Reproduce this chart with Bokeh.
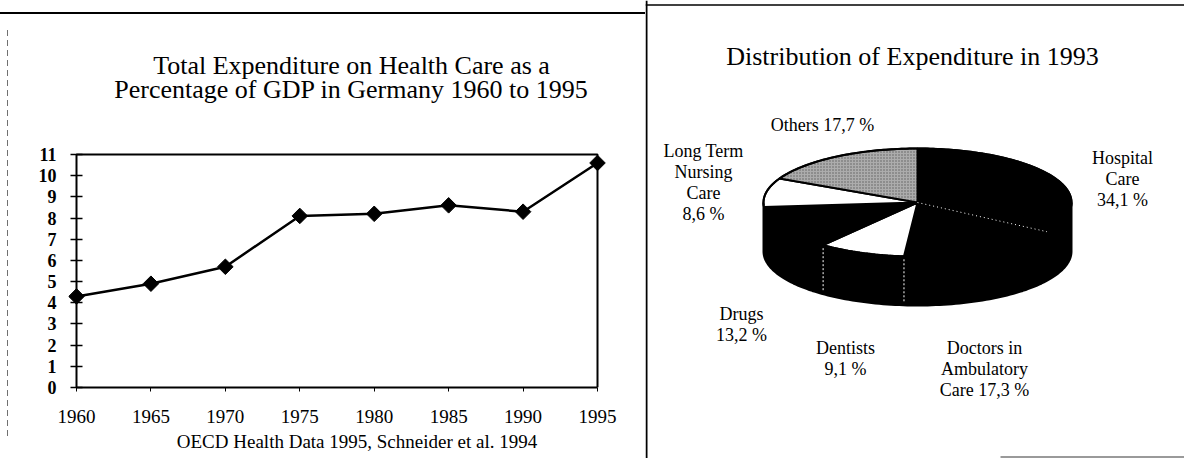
import numpy as np
from bokeh.plotting import figure
from bokeh.layouts import row, column
from bokeh.models import (Range1d, FixedTicker, Label, Span, Div, ColumnDataSource)
from bokeh.core.properties import value
from bokeh.embed import file_html
from bokeh.resources import INLINE

# ---------------- data ----------------
years = [1960, 1965, 1970, 1975, 1980, 1985, 1990, 1995]
health_share_gdp = [4.3, 4.9, 5.7, 8.1, 8.2, 8.6, 8.3, 10.6]
y_ticks = list(range(0, 12))
x_ticks = years

line_title = ["Total Expenditure on Health Care as a",
              "Percentage of GDP in Germany 1960 to 1995"]
source_note = "OECD Health Data 1995, Schneider et al. 1994"

pie_title = "Distribution of Expenditure in 1993"
pie_categories = ["Hospital Care", "Doctors in Ambulatory Care", "Dentists",
                  "Drugs", "Long Term Nursing Care", "Others"]
pie_shares = [34.1, 17.3, 9.1, 13.2, 8.6, 17.7]
pie_label_lines = [["Hospital", "Care", "{v}"],
                   ["Doctors in", "Ambulatory", "Care {v}"],
                   ["Dentists", "{v}"],
                   ["Drugs", "{v}"],
                   ["Long Term", "Nursing", "Care", "{v}"],
                   ["Others {v}"]]

# ---------------- styles / layout (page px) ----------------
FONT = "Liberation Serif"
W_TOTAL, H = 1184, 458
DIV_X = 645                   # divider between the two panels
W_L = DIV_X
W_R = W_TOTAL - W_L
TOP_GAP, TOP_LINE = 12, 2     # scanned sheet's top rule over the left panel
P1_TOP = TOP_GAP + TOP_LINE
H_P1 = H - P1_TOP
DASH_X = 7                    # faint dashed scan edge on the far left
P1_LEFT = DASH_X + 1
W_P1 = W_L - P1_LEFT
FR_L, FR_R, FR_T, FR_B = 76, 597, 154, 387   # line-chart box
FRAME_PAD = 8                 # room so the 1960 marker is not cut
Y_MAX, X_MIN, X_MAX = 11, 1960, 1995

pie_colors = ["black", "black", "white", "black", "white", "#acacac"]
pie_hatch = [" ", " ", " ", " ", " ", "dot"]
label_anchor = [(1122, 157), (984, 347), (845, 347), (741, 313), (703, 150), (822, 124)]
LINE_STEP = 21
CX, CY, A, B, DEPTH = 917, 202, 154, 54, 49

# ---------------- left: line chart ----------------
ppx = (X_MAX - X_MIN) / (FR_R - FR_L)      # years per pixel
ppy = Y_MAX / (FR_B - FR_T)                 # units per pixel


def lx(px):
    return X_MIN + (px - FR_L) * ppx


def ly(py):
    return (FR_B - py) * ppy


frame_left = FR_L - FRAME_PAD
p1 = figure(width=W_P1, height=H_P1,
            x_range=Range1d(lx(frame_left), lx(DIV_X)), y_range=Range1d(0, ly(P1_TOP)),
            output_backend="svg", toolbar_location=None, frame_align=False,
            min_border_left=frame_left - P1_LEFT, min_border_right=0, min_border_top=0,
            min_border_bottom=H - FR_B, margin=0)
p1.xgrid.visible = False
p1.ygrid.visible = False
p1.outline_line_color = None
p1.background_fill_color = "white"
p1.border_fill_color = "white"

p1.xaxis.ticker = FixedTicker(ticks=x_ticks)
p1.yaxis.ticker = FixedTicker(ticks=y_ticks)
p1.xaxis.bounds = (X_MIN, X_MAX)
p1.yaxis.bounds = (0, Y_MAX)
for ax in (p1.xaxis, p1.yaxis):
    ax.axis_line_color = "black"
    ax.axis_line_width = 2
    ax.major_tick_line_color = "black"
    ax.minor_tick_line_color = None
    ax.major_label_text_color = "black"
    ax.major_label_text_font = FONT
# y ticks cross the box's left edge (which sits FRAME_PAD px inside the frame)
p1.yaxis.axis_line_color = None
p1.yaxis.major_tick_in = FRAME_PAD + 6
p1.yaxis.major_tick_out = -(FRAME_PAD - 6)
p1.yaxis.major_tick_line_width = 1.5
p1.yaxis.major_label_text_font_size = "18px"
p1.yaxis.major_label_text_font_style = "bold"
p1.yaxis.major_label_standoff = 12
p1.xaxis.major_tick_in = 0
p1.xaxis.major_tick_out = 4
p1.xaxis.major_tick_line_width = 1
p1.xaxis.major_label_text_font_size = "19px"
p1.xaxis.major_label_standoff = 18
p1.xaxis.axis_label = source_note
p1.xaxis.axis_label_text_font = FONT
p1.xaxis.axis_label_text_font_style = "normal"
p1.xaxis.axis_label_text_font_size = "19px"
p1.xaxis.axis_label_text_color = "black"
p1.xaxis.axis_label_standoff = 5

# edges of the chart box
p1.line([X_MIN, X_MIN, X_MAX, X_MAX], [0, Y_MAX, Y_MAX, 0], line_color="black",
        line_width=2)

p1.line(years, health_share_gdp, line_width=2.5, color="black")
p1.scatter(years, health_share_gdp, marker="square", angle=np.pi / 4, size=11,
           color="black")

for txt, ypos in zip(line_title, [65, 89]):
    p1.add_layout(Label(x=lx(351), y=ly(ypos), text=txt, text_align="center",
                        text_baseline="middle", text_font=FONT,
                        text_font_size="26px", text_color="black"))

top_gap = Div(text="", width=W_L, height=TOP_GAP, margin=0)
top_rule = Div(text="", width=W_L, height=TOP_LINE, margin=0,
               styles={"background-color": "black", "overflow": "hidden"})
dash_style = {"background-image":
              "repeating-linear-gradient(to bottom, #707070 0px, #707070 6px, "
              "transparent 6px, transparent 10px)"}
dash_col = column(Div(text="", width=1, height=16, margin=0),
                  Div(text="", width=1, height=410, margin=0, styles=dash_style),
                  Div(text="", width=1, height=H_P1 - 426, margin=0),
                  spacing=0, margin=0)
left_row = row(Div(text="", width=DASH_X, height=H_P1, margin=0), dash_col, p1,
               spacing=0, margin=0)
left = column(top_gap, top_rule, left_row, spacing=0, margin=0)

# ---------------- right: 3D pie ----------------
p2 = figure(width=W_R, height=H, x_range=Range1d(DIV_X, W_TOTAL),
            y_range=Range1d(H, 0), output_backend="svg", toolbar_location=None,
            x_axis_type=None, y_axis_type=None, min_border=0, frame_align=False,
            margin=0)
p2.xgrid.visible = False
p2.ygrid.visible = False
p2.outline_line_color = None
p2.background_fill_color = "white"
p2.border_fill_color = "white"

shares = np.array(pie_shares, dtype=float)
frac = shares / shares.sum()
ends = np.cumsum(frac) * 2 * np.pi
starts = ends - frac * 2 * np.pi


def ell(t, dy=0.0):
    return CX + A * np.sin(t), CY - B * np.cos(t) + dy


# side wall
tf = np.linspace(np.pi / 2, 3 * np.pi / 2, 120)
x_top, y_top = ell(tf)
x_bot, y_bot = ell(tf[::-1], DEPTH)
p2.patch(np.concatenate([x_top, x_bot]), np.concatenate([y_top, y_bot]),
         fill_color="black", line_color="black", line_width=2)

# top slices
xs, ys = [], []
for s, e in zip(starts, ends):
    t = np.linspace(s, e, max(int((e - s) * 60), 4))
    ex, ey = ell(t)
    xs.append(np.concatenate([[CX], ex]))
    ys.append(np.concatenate([[CY], ey]))
slice_src = ColumnDataSource(dict(xs=xs, ys=ys, color=pie_colors, hatch=pie_hatch,
                                  name=pie_categories))
p2.patches("xs", "ys", source=slice_src, fill_color="color", line_color="black",
           line_width=2, hatch_pattern="hatch", hatch_color="#4a4a4a",
           hatch_scale=3, hatch_weight=1, hatch_alpha=0.8)

# outline of the top ellipse
tt = np.linspace(0, 2 * np.pi, 240)
ox_, oy_ = ell(tt)
p2.line(ox_, oy_, line_color="black", line_width=2)

# white dotted edges between dark slices
bx, by = ell(ends[0])
p2.line([CX, bx], [CY, by], line_color="white", line_width=1, line_dash="1 3")
for k in (1, 2):
    wx, wy = ell(ends[k])
    p2.line([wx, wx], [wy + 3, wy + DEPTH - 3], line_color="white", line_width=1,
            line_dash="2 2")

# labels
lab_x, lab_y, lab_t = [], [], []
for lines, v, (ax_, ay_) in zip(pie_label_lines, pie_shares, label_anchor):
    vs = ("%.1f" % v).replace(".", ",") + " %"
    for i, ln in enumerate(lines):
        lab_x.append(ax_)
        lab_y.append(ay_ + i * LINE_STEP)
        lab_t.append(ln.format(v=vs))
p2.text(x=lab_x, y=lab_y, text=lab_t, text_align="center", text_baseline="middle",
        text_font=value(FONT), text_font_size="18px", text_color="black")

p2.add_layout(Label(x=912, y=56, text=pie_title, text_align="center",
                    text_baseline="middle", text_font=FONT, text_font_size="26px",
                    text_color="black"))

# sheet edges on the right panel
p2.add_layout(Span(location=DIV_X + 1, dimension="height", line_color="black",
                   line_width=2))
p2.add_layout(Span(location=4.5, dimension="width", line_color="black",
                   line_width=1.5))
p2.line([1000, W_TOTAL], [456.5, 456.5], line_color="#9a9a9a", line_width=2)

layout = row(left, p2, spacing=0, margin=0)
open("out.html", "w").write(file_html(layout, INLINE))
